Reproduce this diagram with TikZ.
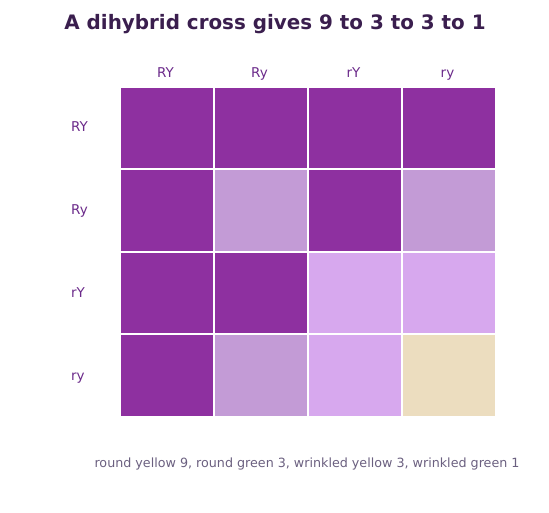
\documentclass[tikz,border=0pt]{standalone}
\usepackage{fontspec}
\setmainfont{DejaVu Sans}
\begin{document}
\begin{tikzpicture}[x=1pt,y=-1pt,
  cell/.style={draw=white,line width=2pt,minimum width=94pt,minimum height=82.5pt,inner sep=0pt,anchor=north west},
  lab/.style={text=labc,font=\fontsize{13.5}{15}\selectfont,inner sep=0pt,anchor=base},
]
\definecolor{dk}{HTML}{8E30A0}
\definecolor{lo}{HTML}{C39BD6}
\definecolor{lt}{HTML}{D7A8EE}
\definecolor{bg}{HTML}{ECDDBF}
\definecolor{titlec}{HTML}{3A1E4E}
\definecolor{labc}{HTML}{6B2A8A}
\definecolor{capc}{HTML}{6B6080}
\useasboundingbox (0,0) rectangle (549,512);
\node[text=titlec,font=\bfseries\fontsize{19.9}{22}\selectfont,anchor=base,inner sep=0pt] (title) at (275,29) {A dihybrid cross gives 9 to 3 to 3 to 1};
% column labels
\node[lab] (c1) at (165.5,77) {RY};
\node[lab] (c2) at (259.5,77) {Ry};
\node[lab] (c3) at (353.5,77) {rY};
\node[lab] (c4) at (447.5,77) {ry};
% row labels
\node[lab,anchor=base west] (r1) at (71,131) {RY};
\node[lab,anchor=base west] (r2) at (71,214) {Ry};
\node[lab,anchor=base west] (r3) at (71,297) {rY};
\node[lab,anchor=base west] (r4) at (71,380) {ry};
% cells
\node[cell,fill=dk] (a11) at (119,85.5) {};
\node[cell,fill=dk] (a12) at (213,85.5) {};
\node[cell,fill=dk] (a13) at (307,85.5) {};
\node[cell,fill=dk] (a14) at (401,85.5) {};
\node[cell,fill=dk] (a21) at (119,168) {};
\node[cell,fill=lo] (a22) at (213,168) {};
\node[cell,fill=dk] (a23) at (307,168) {};
\node[cell,fill=lo] (a24) at (401,168) {};
\node[cell,fill=dk] (a31) at (119,250.5) {};
\node[cell,fill=dk] (a32) at (213,250.5) {};
\node[cell,fill=lt] (a33) at (307,250.5) {};
\node[cell,fill=lt] (a34) at (401,250.5) {};
\node[cell,fill=dk] (a41) at (119,333) {};
\node[cell,fill=lo] (a42) at (213,333) {};
\node[cell,fill=lt] (a43) at (307,333) {};
\node[cell,fill=bg] (a44) at (401,333) {};
\node[text=capc,font=\fontsize{12.7}{14}\selectfont,anchor=base,inner sep=0pt] (cap) at (307,467) {round yellow 9, round green 3, wrinkled yellow 3, wrinkled green 1};
\end{tikzpicture}
\end{document}
